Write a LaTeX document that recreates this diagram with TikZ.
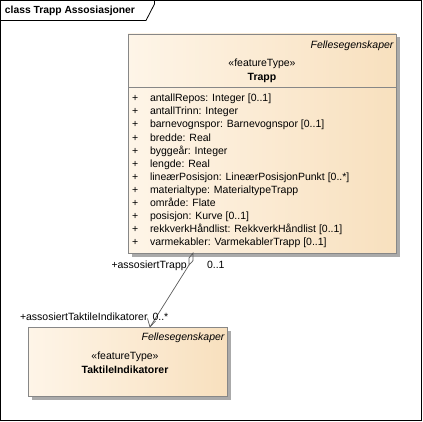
\documentclass[tikz,border=0pt]{standalone}
\usepackage{fontspec}
\setmainfont{Liberation Sans}
\usetikzlibrary{shadows}
\definecolor{fillL}{RGB}{254,245,232}
\definecolor{fillR}{RGB}{248,224,190}
\definecolor{bord}{RGB}{135,135,135}
\definecolor{shad}{RGB}{170,170,170}
\definecolor{conn}{RGB}{90,90,90}
\begin{document}
\begin{tikzpicture}[x=1pt,y=-1pt,
  txt/.style={inner sep=0pt,outer sep=0pt,font=\fontsize{10.5}{12}\selectfont},
  cls/.style={draw=bord,line width=0.8pt,left color=fillL,right color=fillR,inner sep=0pt,outer sep=0pt,anchor=north west,
    drop shadow={shadow xshift=3.5pt,shadow yshift=-3.5pt,fill=shad,opacity=1}},
  attr/.style={txt,anchor=base west}]
\useasboundingbox (0,0) rectangle (423,422);
% frame
\draw[black,line width=0.8pt] (0.5,0.5) rectangle (421.8,420.8);
\draw[black,line width=0.8pt] (0.5,20.5) -- (146,20.5) -- (154.5,4) -- (154.5,0.5);
\node[txt,anchor=base west,font=\fontsize{10.3}{12}\selectfont\bfseries] (title) at (5,14) {class Trapp Assosiasjoner};
% Trapp
\node[cls,minimum width=268pt,minimum height=219pt] (trapp) at (128,34) {};
\draw[bord,line width=0.8pt] (128,87) -- (396,87);
\node[txt,anchor=base east,font=\fontsize{10.5}{12}\selectfont\itshape] (tf) at (393.5,48.5) {Fellesegenskaper};
\node[txt,anchor=base] (ts) at (262,67) {«featureType»};
\node[txt,anchor=base,font=\fontsize{10.5}{12}\selectfont\bfseries] (tn) at (262,80.5) {Trapp};
\foreach \t [count=\i from 0] in {antallRepos: Integer [0..1],antallTrinn: Integer,barnevognspor: Barnevognspor [0..1],bredde: Real,byggeår: Integer,lengde: Real,lineærPosisjon: LineærPosisjonPunkt [0..*],materialtype: MaterialtypeTrapp,område: Flate,posisjon: Kurve [0..1],rekkverkHåndlist: RekkverkHåndlist [0..1],varmekabler: VarmekablerTrapp [0..1]}{
  \node[attr] (p\i) at (132,{101.8+13.1*\i}) {+};
  \node[attr] (a\i) at (150,{101.8+13.1*\i}) {\t};
}
% TaktileIndikatorer
\node[cls,minimum width=199pt,minimum height=69pt] (takt) at (28,327) {};
\node[txt,anchor=base east,font=\fontsize{10.5}{12}\selectfont\itshape] (kf) at (224.5,340.5) {Fellesegenskaper};
\node[txt,anchor=base] (ks) at (125,359) {«featureType»};
\node[txt,anchor=base,font=\fontsize{10.5}{12}\selectfont\bfseries] (kn) at (125,373) {TaktileIndikatorer};
% connector
\coordinate (s) at (189,265);
\coordinate (e) at (150,327);
\draw[conn,line width=0.7pt] (193,253) -- (193,260.7) -- (s) -- (189,258) -- cycle;
\draw[conn,line width=0.7pt] (s) -- (e);
\draw[conn,line width=0.7pt] (147.5,318.5) -- (e) -- (155.5,321);
\node[txt,anchor=base east] (l1) at (186.7,268.5) {+assosiertTrapp};
\node[txt,anchor=base west] (m1) at (207,268.5) {0..1};
\node[txt,anchor=base west] (l2) at (20,320.5) {+assosiertTaktileIndikatorer};
\node[txt,anchor=base west] (m2) at (152.5,320.5) {0..*};
\end{tikzpicture}
\end{document}
